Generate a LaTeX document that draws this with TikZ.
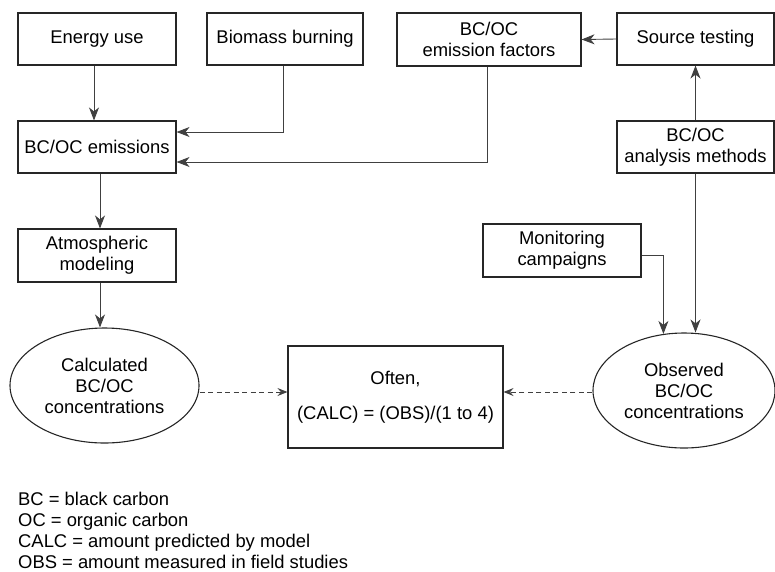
\documentclass[tikz,border=0pt]{standalone}
\usepackage{fontspec}
\setmainfont{Liberation Sans}
\usetikzlibrary{shapes.geometric,arrows.meta}
\begin{document}
\begin{tikzpicture}[x=1pt,y=-1pt,
  txt/.style={font=\fontsize{18.4}{21}\selectfont},
  box/.style={txt,draw=black!85,line width=1.1pt,rectangle,inner sep=0pt,align=center},
  oval/.style={txt,draw=black!85,line width=1.1pt,ellipse,inner sep=0pt,align=center},
  arr/.style={draw=black!75,line width=0.9pt,-{Stealth[length=13pt,width=10pt,inset=4pt]}},
  darr/.style={draw=black!75,line width=0.9pt,dash pattern=on 5pt off 3.5pt,-{Stealth[length=10pt,width=8pt,inset=3.5pt]}},
  legend/.style={txt,anchor=base west,inner sep=0pt}
]
\useasboundingbox (0,0) rectangle (775,571);

% boxes
\node[box,minimum width=158pt,minimum height=52pt] (energy) at (97,39) {Energy use};
\node[box,minimum width=156pt,minimum height=52pt] (biomass) at (285,39) {Biomass burning};
\node[box,minimum width=184pt,minimum height=53pt] (factors) at (489,39.5) {BC/OC\\emission factors};
\node[box,minimum width=157pt,minimum height=52pt] (source) at (695.5,39) {Source testing};
\node[box,minimum width=158pt,minimum height=52pt] (emis) at (97,147) {BC/OC emissions};
\node[box,minimum width=157pt,minimum height=52pt] (analysis) at (695.5,147) {BC/OC\\analysis methods};
\node[box,minimum width=158pt,minimum height=53pt] (atmos) at (97,255.5) {Atmospheric\\modeling};
\node[box,minimum width=158pt,minimum height=53pt] (monit) at (562,250.5) {Monitoring\\campaigns};
\node[oval,minimum width=189pt,minimum height=115pt] (calc) at (104.5,385.5) {Calculated\\BC/OC\\concentrations};
\node[box,minimum width=215pt,minimum height=102pt] (often) at (395.5,397) {Often,\\[14pt](CALC) = (OBS)/(1 to 4)};
\node[oval,minimum width=182pt,minimum height=115pt] (obs) at (684,390.5) {Observed\\BC/OC\\concentrations};

% connectors
\draw[arr] ([xshift=-3pt]energy.south) -- ([xshift=-3pt]emis.north);
\draw[arr] ([xshift=-2pt]biomass.south) |- ([yshift=15pt]emis.east);
\draw[arr] ([xshift=-2pt]factors.south) |- ([yshift=-15pt]emis.east);
\draw[arr] (source.west) -- (factors.east);
\draw[arr] (analysis.north) -- (source.south);
\draw[arr] ([xshift=3pt]emis.south) -- ([xshift=3pt]atmos.north);
\coordinate (cx) at ([xshift=3pt]atmos.south);
\draw[arr] (cx) -- (calc.north -| cx);
\draw[arr] (analysis.south) -- (obs.north -| analysis.south);
\draw[arr] ([yshift=-4.5pt]monit.east) -| (obs.110);
\coordinate (dl) at ([yshift=5pt]often.west);
\coordinate (dr) at ([yshift=5pt]often.east);
\draw[darr] (calc.east |- dl) -- (dl);
\draw[darr] (obs.west |- dr) -- (dr);

% legend
\node[legend] (l1) at (18,505) {BC = black carbon};
\node[legend] (l2) at (18,526) {OC = organic carbon};
\node[legend] (l3) at (18,547) {CALC = amount predicted by model};
\node[legend] (l4) at (18,568) {OBS = amount measured in field studies};
\end{tikzpicture}
\end{document}
